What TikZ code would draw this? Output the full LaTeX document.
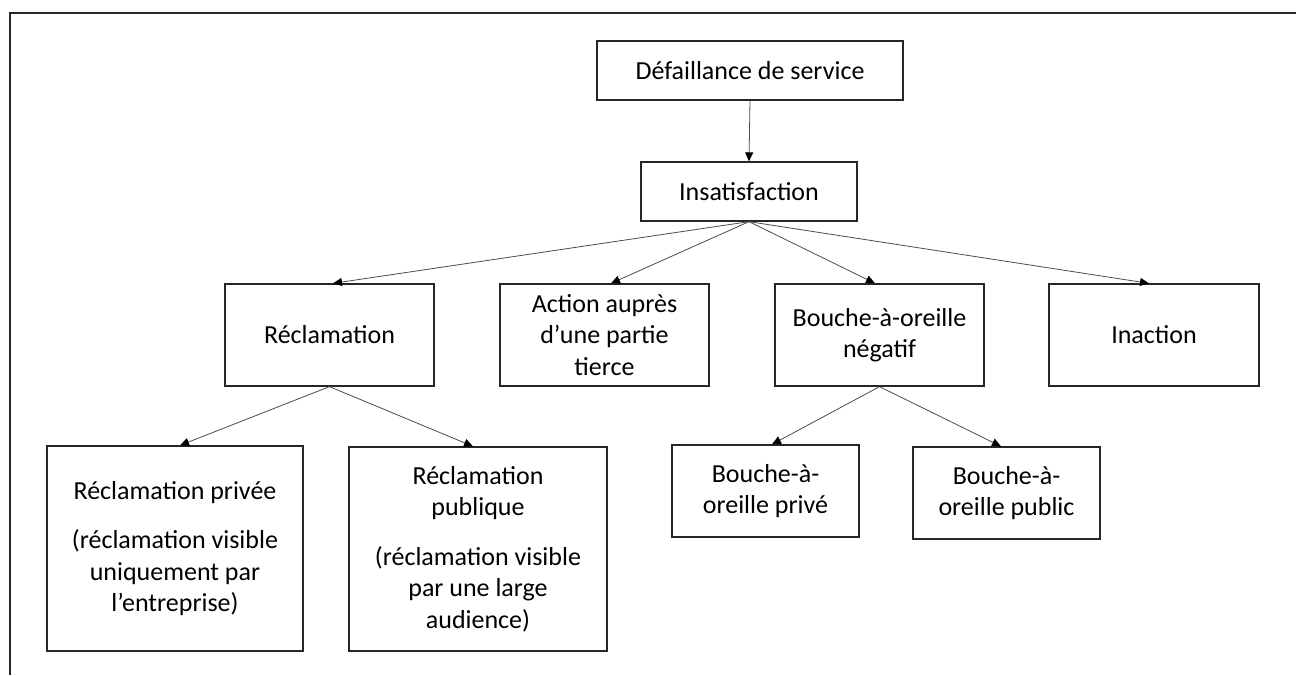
\documentclass[tikz,border=0pt]{standalone}
\usepackage{fontspec}
\setmainfont{Carlito}
\usetikzlibrary{arrows.meta}
\begin{document}
\begin{tikzpicture}[x=1pt,y=-1pt,
  box/.style={draw=black!85, line width=1.3pt, inner sep=0pt, align=center,
    font=\fontsize{26}{31.5}\selectfont, anchor=center},
  arr/.style={draw=black!70, line width=0.8pt, -{Triangle[length=9pt,width=8pt,color=black,fill=black]}}]
\useasboundingbox (0,0) rectangle (1296,675);
\draw[line width=1.3pt, black!85] (10,675) -- (10,13) -- (1296,13);

\node[box, minimum width=306pt, minimum height=59pt] (def) at (750,70.5) {Défaillance de service};
\node[box, minimum width=216pt, minimum height=59pt] (ins) at (749,191.5) {Insatisfaction};

\node[box, minimum width=209pt, minimum height=102pt] (rec) at (329.5,335) {Réclamation};
\node[box, minimum width=209pt, minimum height=102pt] (act) at (604.5,335) {Action auprès\\d’une partie\\tierce};
\node[box, minimum width=209pt, minimum height=102pt] (bao) at (879.5,335) {Bouche-à-oreille\\négatif};
\node[box, minimum width=210pt, minimum height=102pt] (ina) at (1154,335) {Inaction};

\node[box, minimum width=256pt, minimum height=205pt] (rpriv) at (175,548.5)
  {Réclamation privée\\[18pt](réclamation visible\\uniquement par\\l’entreprise)};
\node[box, minimum width=258pt, minimum height=204pt] (rpub) at (478,549)
  {Réclamation\\publique\\[18pt](réclamation visible\\par une large\\audience)};

\node[box, minimum width=187pt, minimum height=92pt] (bpriv) at (765.5,491) {Bouche-à-\\oreille privé};
\node[box, minimum width=187pt, minimum height=92pt] (bpub) at (1006.5,493) {Bouche-à-\\oreille public};

\draw[arr] (def.south) -- (ins.north);
\draw[arr] (ins.south) -- ([xshift=3.5pt]rec.north);
\draw[arr] (ins.south) -- ([xshift=6.5pt]act.north);
\draw[arr] (ins.south) -- ([xshift=-4.5pt]bao.north);
\draw[arr] (ins.south) -- ([xshift=-5pt]ina.north);
\draw[arr] (rec.south) -- ([xshift=5pt]rpriv.north);
\draw[arr] (rec.south) -- ([xshift=-5pt]rpub.north);
\draw[arr] (bao.south) -- ([xshift=6.5pt]bpriv.north);
\draw[arr] (bao.south) -- ([xshift=-5.5pt]bpub.north);
\end{tikzpicture}
\end{document}
